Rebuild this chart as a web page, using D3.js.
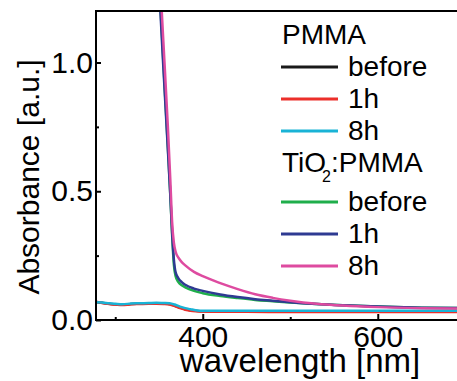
<!DOCTYPE html>
<html>
<head>
<meta charset="utf-8">
<script src="https://cdn.jsdelivr.net/npm/d3@7/dist/d3.min.js"></script>
<style>
	html, body { margin: 0; padding: 0; background: #fff; }
	svg { display: block; font-family: "Liberation Sans", Arial, sans-serif; }
</style>
</head>
<body>
<div id="chart"></div>
<script>
/* global d3 */

'use strict';

// PMMA film, measured on one wavelength grid.
var pmmaWavelength = [278, 285, 293, 300, 308, 318, 328, 338, 347, 355, 362, 368, 374, 380, 386, 392, 400, 420, 450, 500, 550, 600, 650, 700];
var pmmaBefore = [0.070, 0.067, 0.063, 0.061, 0.059, 0.062, 0.063, 0.064, 0.065, 0.064, 0.062, 0.056, 0.048, 0.042, 0.038, 0.036, 0.034, 0.034, 0.033, 0.033, 0.033, 0.033, 0.032, 0.032];
var pmma1h = [0.071, 0.066, 0.062, 0.060, 0.058, 0.061, 0.062, 0.063, 0.063, 0.062, 0.060, 0.054, 0.046, 0.040, 0.036, 0.034, 0.033, 0.032, 0.032, 0.031, 0.031, 0.031, 0.031, 0.031];
var pmma8h = [0.069, 0.068, 0.065, 0.063, 0.061, 0.064, 0.065, 0.066, 0.067, 0.066, 0.065, 0.060, 0.052, 0.046, 0.042, 0.038, 0.036, 0.036, 0.036, 0.036, 0.036, 0.036, 0.036, 0.036];

// TiO2:PMMA film, measured on a second grid (the edge leaves the top of the chart).
var tioWavelength = [350, 355, 360, 363, 365, 367, 369, 372, 376, 380, 390, 400, 420, 440, 460, 480, 500, 530, 560, 600, 650, 700];
var tioBefore = [1.33, 1.00, 0.68, 0.48, 0.33, 0.215, 0.170, 0.148, 0.135, 0.127, 0.113, 0.104, 0.093, 0.085, 0.078, 0.073, 0.068, 0.062, 0.057, 0.052, 0.048, 0.046];
var tio1h = [1.30, 0.98, 0.67, 0.48, 0.34, 0.235, 0.185, 0.163, 0.147, 0.137, 0.122, 0.113, 0.099, 0.089, 0.081, 0.075, 0.069, 0.062, 0.057, 0.052, 0.048, 0.046];
var tio8h = [1.40, 1.08, 0.76, 0.54, 0.38, 0.300, 0.265, 0.243, 0.225, 0.212, 0.187, 0.170, 0.143, 0.120, 0.100, 0.086, 0.075, 0.063, 0.056, 0.050, 0.046, 0.044];

// Axis ticks.
var xMajorTicks = [400, 600];
var xMinorTicks = [300, 500];
var yMajorTicks = [0, 0.5, 1.0];
var yMinorTicks = [0.25, 0.75];

// Legend rows (a header has no colour).
var legendRows = [
	{label: "PMMA", header: true},
	{label: "before", color: "#1a1a1a"},
	{label: "1h", color: "#ec2f2a"},
	{label: "8h", color: "#19b3d6"},
	{label: "TiO2:PMMA", header: true},
	{label: "before", color: "#1fae4b"},
	{label: "1h", color: "#2e3a92"},
	{label: "8h", color: "#de4ba0"}
];

var series = [
	{wl: pmmaWavelength, vals: pmmaBefore, color: legendRows[1].color},
	{wl: pmmaWavelength, vals: pmma1h, color: legendRows[2].color},
	{wl: pmmaWavelength, vals: pmma8h, color: legendRows[3].color},
	{wl: tioWavelength, vals: tioBefore, color: legendRows[5].color},
	{wl: tioWavelength, vals: tio1h, color: legendRows[6].color},
	{wl: tioWavelength, vals: tio8h, color: legendRows[7].color}
];

//////////////////////////////////////////////////
// Geometry.
//////////////////////////////////////////////////

var W = 457, H = 381;
var margin = {top: 11, left: 96, bottom: 61};
var plotBottom = H - margin.bottom;

var x = d3.scaleLinear().domain([278, 700]).range([margin.left, margin.left + 422 * 0.875]);
var y = d3.scaleLinear().domain([0, 1.2]).range([plotBottom, margin.top]);

var svg = d3.select("#chart").append("svg")
		.attr("width", W)
		.attr("height", H);

svg.append("defs").append("clipPath")
		.attr("id", "plotClip")
		.append("rect")
		.attr("x", x.range()[0])
		.attr("y", y.range()[1])
		.attr("width", x.range()[1] - x.range()[0])
		.attr("height", y.range()[0] - y.range()[1]);

// Curves.
var line = d3.line()
		.x(function(d) { return x(d[0]); })
		.y(function(d) { return y(d[1]); })
		.curve(d3.curveMonotoneX);

svg.append("g")
		.attr("clip-path", "url(#plotClip)")
		.selectAll("path")
		.data(series)
		.enter().append("path")
		.attr("fill", "none")
		.attr("stroke", function(s) { return s.color; })
		.attr("stroke-width", 2.5)
		.attr("stroke-linejoin", "round")
		.attr("d", function(s) {
			return line(s.wl.map(function(w, i) { return [w, s.vals[i]]; }));
		});

//////////////////////////////////////////////////
// Axes, ticks pointing inward.
//////////////////////////////////////////////////

var tickFont = 30;

function styleAxis(g) {
	g.select(".domain").remove();
	g.selectAll(".tick line").attr("stroke", "#000").attr("stroke-width", 2);
	g.selectAll(".tick text")
			.attr("fill", "#000")
			.attr("font-size", tickFont)
			.attr("font-family", "Liberation Sans, Arial, sans-serif");
}

svg.append("g")
		.attr("transform", "translate(0," + plotBottom + ")")
		.call(d3.axisBottom(x).tickValues(xMajorTicks).tickSize(-6).tickPadding(6).tickFormat(d3.format("d")))
		.call(styleAxis);
svg.append("g")
		.attr("transform", "translate(0," + plotBottom + ")")
		.call(d3.axisBottom(x).tickValues(xMinorTicks).tickSize(-3).tickFormat(""))
		.call(styleAxis);
svg.append("g")
		.attr("transform", "translate(" + margin.left + ",0)")
		.call(d3.axisLeft(y).tickValues(yMajorTicks).tickSize(-5).tickPadding(3).tickFormat(d3.format(".1f")))
		.call(styleAxis);
svg.append("g")
		.attr("transform", "translate(" + margin.left + ",0)")
		.call(d3.axisLeft(y).tickValues(yMinorTicks).tickSize(-3).tickFormat(""))
		.call(styleAxis);

// Frame: left, bottom and top (the right side runs off the picture).
svg.append("path")
		.attr("fill", "none")
		.attr("stroke", "#000")
		.attr("stroke-width", 2)
		.attr("d", "M" + x.range()[1] + "," + y.range()[1] +
				"H" + x.range()[0] + "V" + y.range()[0] + "H" + x.range()[1]);

// Axis titles.
svg.append("text")
		.attr("x", 300)
		.attr("y", 372)
		.attr("text-anchor", "middle")
		.attr("font-size", 33)
		.text("wavelength [nm]");

svg.append("text")
		.attr("transform", "translate(39,177) rotate(-90)")
		.attr("text-anchor", "middle")
		.attr("font-size", 30)
		.text("Absorbance [a.u.]");

//////////////////////////////////////////////////
// Legend.
//////////////////////////////////////////////////

var legendX = 281, legendFont = 28;
var gLegend = svg.append("g").attr("font-size", legendFont);

legendRows.forEach(function(row, i) {
	var baseY = 43.5 + 32 * i + (i > 4 ? 7 : 0);  // Extra room below the subscript.
	if (row.header) {
		var t = gLegend.append("text").attr("x", legendX + 1).attr("y", baseY);
		if (row.label.indexOf("TiO2") === 0) {
			t.append("tspan").text("TiO");
			t.append("tspan").attr("font-size", 16).attr("dy", 10).attr("dx", -4).text("2");
			t.append("tspan").attr("dy", -10).text(row.label.substring(4));
		} else {
			t.text(row.label);
		}
	} else {
		gLegend.append("line")
				.attr("x1", legendX).attr("x2", legendX + 57)
				.attr("y1", baseY - 8.5).attr("y2", baseY - 8.5)
				.attr("stroke", row.color)
				.attr("stroke-width", 3);
		gLegend.append("text")
				.attr("x", legendX + 67)
				.attr("y", baseY)
				.text(row.label);
	}
});
</script>
</body>
</html>
